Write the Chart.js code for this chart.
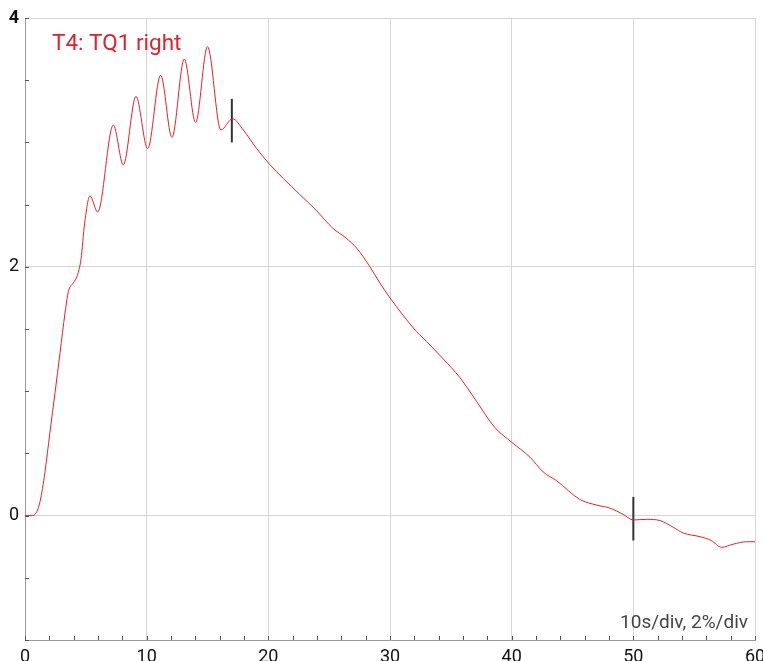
<!DOCTYPE html>
<html>
<head>
<meta charset="utf-8">
<script src="https://cdn.jsdelivr.net/npm/chart.js@4/dist/chart.umd.min.js"></script>
<style>
html,body{margin:0;padding:0;background:#fff;}
canvas{display:block;}
</style>
</head>
<body>
<canvas id="c" width="763" height="661"></canvas>
<script>
// ---- data ----
const timeS = [0,0.6,0.9,1.23,1.64,2.05,2.47,2.88,3.29,3.56,3.97,4.3,4.6,4.9,5.34,5.97,7.26,8.08,9.12,10.08,11.15,12.08,13.09,14.02,15.0,16.1,17.06,17.94,19.04,20.05,21.23,22.6,23.97,25.3,26.4,27.26,28.35,29.17,30.0,31.0,31.9,33.0,34.37,35.74,37.1,38.6,40.0,41.5,42.6,43.7,45.6,46.97,48.07,49.16,50.0,51.1,52.2,53.3,54.1,55.5,56.4,57.25,58.2,59.3,60];
const torque = [0,0,0.02,0.11,0.35,0.67,0.99,1.31,1.63,1.80,1.87,1.93,2.06,2.35,2.57,2.44,3.14,2.82,3.37,2.95,3.54,3.04,3.67,3.16,3.77,3.10,3.19,3.10,2.95,2.83,2.71,2.58,2.45,2.31,2.23,2.15,2.00,1.87,1.75,1.62,1.51,1.40,1.26,1.11,0.92,0.71,0.59,0.47,0.35,0.28,0.13,0.085,0.06,0.01,-0.035,-0.03,-0.04,-0.095,-0.14,-0.17,-0.20,-0.255,-0.23,-0.21,-0.21];
const marker1X = [17, 17];
const marker1Y = [3.0, 3.35];
const marker2X = [50, 50];
const marker2Y = [-0.2, 0.15];
const xTickValues = [0,10,20,30,40,50,60];
const yTickValues = [0,2,4];
const xMinorTicks = [0,2,4,6,8,10,12,14,16,18,20,22,24,26,28,30,32,34,36,38,40,42,44,46,48,50,52,54,56,58,60];
const yMinorTicks = [-1,-0.5,0,0.5,1,1.5,2,2.5,3,3.5,4];
const seriesLabel = 'T4: TQ1 right';
const scaleLabel = '10s/div, 2%/div';

const RED = '#e3202b';
const toPts = (xs, ys) => xs.map((x, i) => ({x: x, y: ys[i]}));

const minorTicksPlugin = {
  id: 'minorTicks',
  afterDatasetsDraw(chart) {
    const ctx = chart.ctx, xs = chart.scales.x, ys = chart.scales.y;
    const a = chart.chartArea;
    ctx.save();
    ctx.strokeStyle = '#555';
    ctx.lineWidth = 1;
    ctx.beginPath();
    xMinorTicks.forEach(v => {
      const px = Math.round(xs.getPixelForValue(v)) + 0.5;
      ctx.moveTo(px, a.bottom);
      ctx.lineTo(px, a.bottom - 4);
    });
    yMinorTicks.forEach(v => {
      const py = Math.round(ys.getPixelForValue(v)) + 0.5;
      ctx.moveTo(a.left, py);
      ctx.lineTo(a.left + 4, py);
    });
    ctx.stroke();
    // texts
    ctx.fillStyle = RED;
    ctx.font = '22.5px Roboto';
    ctx.textAlign = 'left';
    ctx.textBaseline = 'alphabetic';
    ctx.fillText(seriesLabel, 52, 50);
    ctx.fillStyle = '#444';
    ctx.font = '19px Roboto';
    ctx.textAlign = 'right';
    ctx.fillText(scaleLabel, 748, 628);
    ctx.restore();
  }
};

new Chart(document.getElementById('c'), {
  type: 'line',
  data: {
    datasets: [
      {
        data: toPts(timeS, torque),
        borderColor: RED,
        borderWidth: 1,
        pointRadius: 0,
        cubicInterpolationMode: 'monotone',
        fill: false
      },
      {
        data: toPts(marker1X, marker1Y),
        borderColor: '#333',
        borderWidth: 2,
        pointRadius: 0,
        fill: false
      },
      {
        data: toPts(marker2X, marker2Y),
        borderColor: '#333',
        borderWidth: 2,
        pointRadius: 0,
        fill: false
      }
    ]
  },
  options: {
    responsive: false,
    animation: false,
    layout: { padding: { top: 18, right: 8, left: 0, bottom: 0 } },
    plugins: { legend: { display: false }, tooltip: { enabled: false } },
    scales: {
      x: {
        type: 'linear',
        min: 0, max: 60,
        afterBuildTicks: s => { s.ticks = xTickValues.map(v => ({value: v})); },
        afterFit: s => { s.height = 21; s.paddingLeft = 0; s.paddingRight = 0; },
        grid: { color: '#d6d6d6', lineWidth: 1, drawTicks: false },
        border: { color: '#9a9a9a', width: 1 },
        ticks: { color: '#111', font: { family: 'Roboto', size: 18 }, padding: 7, maxRotation: 0 }
      },
      y: {
        type: 'linear',
        min: -1, max: 4,
        afterBuildTicks: s => { s.ticks = yTickValues.map(v => ({value: v})); },
        afterFit: s => { s.width = 25; s.paddingTop = 0; s.paddingBottom = 0; },
        grid: { color: '#d6d6d6', lineWidth: 1, drawTicks: false },
        border: { color: '#9a9a9a', width: 1 },
        ticks: {
          color: '#111',
          font: ctx => ({ family: 'Roboto', size: 18, weight: (ctx.tick && ctx.tick.value === 4) ? 'bold' : 'normal' }),
          padding: 6
        }
      }
    }
  },
  plugins: [minorTicksPlugin]
});
</script>
</body>
</html>
